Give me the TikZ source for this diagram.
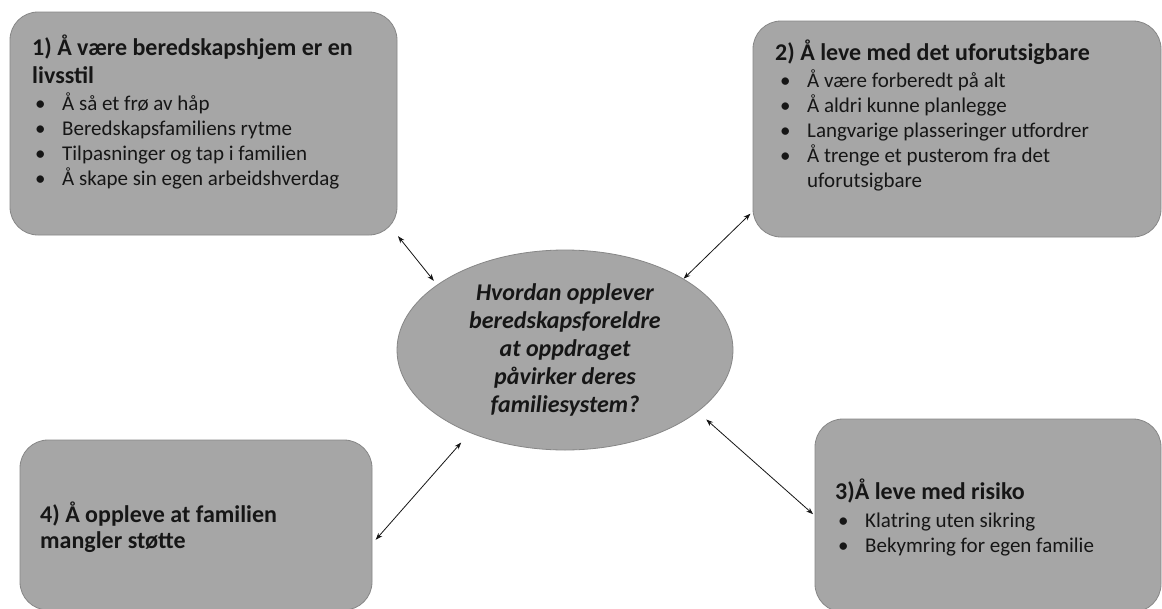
\documentclass[tikz,border=0pt]{standalone}
\usepackage{fontspec}
\setmainfont{Carlito}
\usetikzlibrary{shapes.geometric,arrows.meta}
\definecolor{boxfill}{RGB}{166,166,166}
\definecolor{boxline}{RGB}{135,135,135}
\definecolor{ink}{RGB}{22,22,22}
\tikzset{
 themebox/.style={draw=boxline, fill=boxfill, line width=0.8pt, rounded corners=28pt, inner sep=0pt},
 hub/.style={ellipse, draw=boxline, fill=boxfill, line width=0.8pt, inner sep=0pt, minimum width=336pt, minimum height=200pt, align=center, text=ink, font=\fontsize{24}{28}\selectfont\bfseries\itshape},
 titletxt/.style={anchor=base west, inner sep=0pt, text=ink, font=\fontsize{24}{28}\selectfont\bfseries},
 listtxt/.style={anchor=base west, inner sep=0pt, text=ink, font=\fontsize{21}{25}\selectfont},
 link/.style={{Stealth[length=7pt,width=5pt]}-{Stealth[length=7pt,width=5pt]}, line width=0.8pt, draw=ink},
}
\newcommand{\bul}{\makebox[27pt][l]{•}}
\begin{document}
\begin{tikzpicture}[x=1pt,y=-1pt]
\useasboundingbox (0,0) rectangle (1162,608);
\fill[white] (0,0) rectangle (1162,608);
% boxes
\node[themebox, minimum width=387pt, minimum height=223pt] (box1) at (203.5,123.5) {};
\node[themebox, minimum width=408pt, minimum height=216pt] (box2) at (957,129) {};
\node[themebox, minimum width=346pt, minimum height=193pt] (box3) at (988,515.5) {};
\node[themebox, minimum width=352pt, minimum height=170pt] (box4) at (196,525) {};
\node[hub] (ell) at (565,350) {Hvordan opplever\\beredskapsforeldre\\at oppdraget\\påvirker deres\\familiesystem?};
% box 1 text
\node[titletxt] (t1a) at (32,55) {1) Å være beredskapshjem er en};
\node[titletxt] (t1b) at (32,83) {livsstil};
\node[listtxt] (l1) at (35,110) {\begin{tabular}[t]{@{}l@{}}
\bul Å så et frø av håp\\
\bul Beredskapsfamiliens rytme\\
\bul Tilpasninger og tap i familien\\
\bul Å skape sin egen arbeidshverdag
\end{tabular}};
% box 2 text
\node[titletxt] (t2) at (775,60) {2) Å leve med det uforutsigbare};
\node[listtxt] (l2) at (780,87) {\begin{tabular}[t]{@{}l@{}}
\bul Å være forberedt på alt\\
\bul Å aldri kunne planlegge\\
\bul Langvarige plasseringer utfordrer\\
\bul Å trenge et pusterom fra det\\
\hspace*{27pt}uforutsigbare
\end{tabular}};
% box 3 text
\node[titletxt] (t3) at (835,499) {3)Å leve med risiko};
\node[listtxt] (l3) at (838,527) {\begin{tabular}[t]{@{}l@{}}
\bul Klatring uten sikring\\
\bul Bekymring for egen familie
\end{tabular}};
% box 4 text
\node[titletxt] (t4a) at (40,522) {4) Å oppleve at familien};
\node[titletxt] (t4b) at (40,548) {mangler støtte};
% connectors
\draw[link, shorten <=1pt, shorten >=5pt] (box1.south east) -- (ell.153.9);
\draw[link, shorten <=0pt, shorten >=3pt] (ell.31.4) -- (box2.202);
\draw[link, shorten <=11.5pt, shorten >=2pt] (ell.-25.4) -- (box3.west);
\draw[link, shorten <=5pt, shorten >=13pt] (box4.-6.6) -- (ell.221.5);
\end{tikzpicture}
\end{document}
